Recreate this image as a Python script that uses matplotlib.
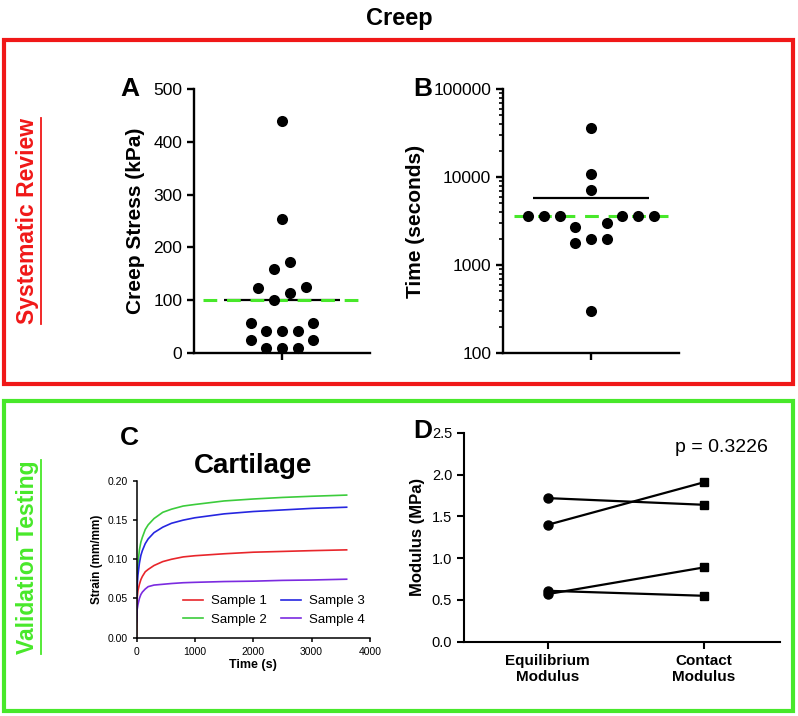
import numpy as np
import matplotlib
matplotlib.use("Agg")
import matplotlib.pyplot as plt
from matplotlib.patches import Rectangle
from matplotlib.lines import Line2D
from matplotlib.ticker import FormatStrFormatter, LogLocator, NullFormatter

plt.rcParams['font.family'] = ['Liberation Sans', 'DejaVu Sans']

# ===== DATA =====

# A - creep stress from the review (kPa)
creep_stress = [440, 254, 172, 159, 125, 124, 113, 100, 57, 57, 42, 42, 42, 25, 25, 10, 10, 10]
stress_ref = 100

# B - creep duration from the review (s)
creep_time = [36000, 10800, 7200, 3600, 3600, 3600, 3600, 3600, 3600, 3000, 2700, 2000, 2000, 1800, 300]
time_ref = 3600

# C - cartilage creep curves
t_s = [0, 10, 25, 50, 75, 100, 150, 200, 300, 450, 600, 800, 1000, 1500, 2000, 2500, 3000, 3600]
strain_s1 = [0.0, 0.050, 0.060, 0.068, 0.074, 0.078, 0.084, 0.087, 0.092, 0.097, 0.100, 0.103,
             0.1045, 0.107, 0.109, 0.110, 0.111, 0.112]
strain_s2 = [0.050, 0.080, 0.095, 0.112, 0.122, 0.128, 0.138, 0.144, 0.152, 0.160, 0.164, 0.168,
             0.170, 0.1745, 0.177, 0.179, 0.1805, 0.182]
strain_s3 = [0.048, 0.065, 0.080, 0.095, 0.105, 0.111, 0.120, 0.126, 0.134, 0.141, 0.146, 0.150,
             0.153, 0.158, 0.161, 0.163, 0.165, 0.1665]
strain_s4 = [0.020, 0.035, 0.042, 0.050, 0.055, 0.058, 0.062, 0.065, 0.067, 0.068, 0.069, 0.070,
             0.0705, 0.0715, 0.072, 0.073, 0.0735, 0.0745]
sample_names = ['Sample 1', 'Sample 2', 'Sample 3', 'Sample 4']
sample_colors = ['#e8262b', '#3ccc3c', '#2626e0', '#7b2be0']

# D - paired modulus (MPa)
equil_mod = [1.72, 1.40, 0.61, 0.57]
contact_mod = [1.64, 1.91, 0.55, 0.89]
mod_labels = ['Equilibrium\nModulus', 'Contact\nModulus']
p_text = 'p = 0.3226'

W, H = 798, 716
RED = '#f01818'
GREEN = '#48e82a'


def box(l, t, r, b):
    # pixel box -> figure fraction
    return [l / W, 1 - b / H, (r - l) / W, (b - t) / H]


def swarm(ax, vals, step_px, tol_px):
    # GraphPad-like scatter: rows of close values, spread out until no overlap
    y = ax.transData.transform(np.column_stack([np.zeros(len(vals)), vals]))[:, 1]
    order = np.argsort(y, kind='stable')
    rows = []
    for i in order:
        if rows and y[i] - y[rows[-1][0]] <= tol_px:
            rows[-1].append(i)
        else:
            rows.append([i])
    placed = []
    off = np.zeros(len(vals))
    lim = (0.95 * step_px) ** 2

    def free(c, yy):
        return all((c * step_px - px) ** 2 + (yy - py) ** 2 >= lim for px, py in placed)

    for row in rows:
        n = len(row)
        base = np.arange(n) - (n - 1) / 2
        chosen = None
        for j in range(4):
            cand = base + np.sign(base) * 0.5 * j
            if all(free(c, y[i]) for c, i in zip(cand, row)):
                chosen = cand
                break
        if chosen is None:
            chosen = []
            steps = [0.0]
            for k in range(1, 20):
                steps += [-0.5 * k, 0.5 * k]
            for i in row:
                for c in steps:
                    if free(c, y[i]) and c not in chosen:
                        chosen.append(c)
                        placed.append((c * step_px, y[i]))
                        break
            placed = placed[:len(placed) - n]
        for c, i in zip(chosen, row):
            off[i] = c
            placed.append((c * step_px, y[i]))
    return off


def style_axes(ax, lw, size):
    for s in ['top', 'right']:
        ax.spines[s].set_visible(False)
    for s in ['left', 'bottom']:
        ax.spines[s].set_linewidth(lw)
    ax.tick_params(direction='out', width=lw, length=5, labelsize=size)


fig = plt.figure(figsize=(W / 100, H / 100), dpi=100)

# ===== FRAMES =====
fig.patches.append(Rectangle((4 / W, 1 - 384 / H), 789 / W, 344 / H, transform=fig.transFigure,
                             fill=False, edgecolor=RED, lw=3))
fig.patches.append(Rectangle((4 / W, 1 - 711 / H), 789 / W, 310 / H, transform=fig.transFigure,
                             fill=False, edgecolor=GREEN, lw=3))

fig.text(399 / W, 1 - 18 / H, 'Creep', ha='center', va='center', fontsize=17, fontweight='bold')

side1 = fig.text(28 / W, 1 - 221 / H, 'Systematic Review', rotation=90, ha='center', va='center',
                 fontsize=16.5, fontweight='bold', color=RED)
side2 = fig.text(28 / W, 1 - 557 / H, 'Validation Testing', rotation=90, ha='center', va='center',
                 fontsize=16.5, fontweight='bold', color=GREEN)

# ===== A =====
axA = fig.add_axes(box(194, 89, 370, 353))
axA.set_xlim(-1, 1)
axA.set_ylim(0, 500)
step = 15.7
offA = swarm(axA, creep_stress, step, 7.3)
axA.scatter(offA * step / 176 * 2, creep_stress, s=64, c='black', zorder=5, clip_on=False, lw=0)
axA.hlines(np.mean(creep_stress), -0.66, 0.66, colors='black', lw=1.6, zorder=3)
axA.hlines(stress_ref, -0.9, 0.9, colors=GREEN, lw=2.2, linestyles=(0, (4.5, 3.2)), zorder=4)
style_axes(axA, 1.7, 12.5)
axA.set_xticks([0])
axA.set_xticklabels([''])
axA.set_yticks(np.arange(0, 501, 100))
axA.set_ylabel('Creep Stress (kPa)', fontsize=15, fontweight='bold', labelpad=6)
fig.text(130 / W, 1 - 89 / H, 'A', ha='center', va='center', fontsize=19, fontweight='bold')

# ===== B =====
axB = fig.add_axes(box(503, 89, 679, 353))
axB.set_yscale('log')
axB.set_xlim(-1, 1)
axB.set_ylim(100, 100000)
offB = swarm(axB, creep_time, step, 7.3)
axB.scatter(offB * step / 176 * 2, creep_time, s=64, c='black', zorder=5, clip_on=False, lw=0)
axB.hlines(np.mean(creep_time), -0.66, 0.66, colors='black', lw=1.6, zorder=3)
axB.hlines(time_ref, -0.88, 0.88, colors=GREEN, lw=2.2, linestyles=(0, (4.5, 3.2)), zorder=4)
style_axes(axB, 1.7, 12.5)
axB.tick_params(which='minor', direction='out', width=1.2, length=3)
axB.set_xticks([0])
axB.set_xticklabels([''])
axB.set_yticks([100, 1000, 10000, 100000])
axB.set_yticklabels(['100', '1000', '10000', '100000'])
axB.yaxis.set_minor_locator(LogLocator(base=10, subs=np.arange(2, 10)))
axB.yaxis.set_minor_formatter(NullFormatter())
axB.set_ylabel('Time (seconds)', fontsize=15, fontweight='bold', labelpad=6)
fig.text(423 / W, 1 - 89 / H, 'B', ha='center', va='center', fontsize=19, fontweight='bold')

# ===== C =====
axC = fig.add_axes(box(136.5, 481, 370, 637.5))
for ys, name, col in zip([strain_s1, strain_s2, strain_s3, strain_s4], sample_names, sample_colors):
    axC.plot(t_s, ys, color=col, lw=1.2, label=name)
axC.set_xlim(0, 4000)
axC.set_ylim(0, 0.2)
style_axes(axC, 1.1, 7.5)
axC.tick_params(length=3)
axC.set_xticks(np.arange(0, 4001, 1000))
axC.set_yticks(np.arange(0, 0.201, 0.05))
axC.yaxis.set_major_formatter(FormatStrFormatter('%.2f'))
axC.set_xlabel('Time (s)', fontsize=9, fontweight='bold', labelpad=2)
axC.set_ylabel('Strain (mm/mm)', fontsize=8.5, fontweight='bold', labelpad=3)
axC.legend(ncol=2, frameon=False, fontsize=9.5, loc='lower left', bbox_to_anchor=(0.15, 0.0),
           handlelength=1.5, columnspacing=1.1, labelspacing=0.45, handletextpad=0.6)
axC.set_title('Cartilage', fontsize=20, fontweight='bold', pad=6)
fig.text(129 / W, 1 - 438 / H, 'C', ha='center', va='center', fontsize=19, fontweight='bold')

# ===== D =====
axD = fig.add_axes(box(464, 433, 780, 641.7))
for e, c in zip(equil_mod, contact_mod):
    axD.plot([0, 1], [e, c], color='black', lw=1.6, zorder=2)
axD.plot(np.zeros(len(equil_mod)), equil_mod, 'o', color='black', ms=6.5, zorder=3, clip_on=False)
axD.plot(np.ones(len(contact_mod)), contact_mod, 's', color='black', ms=6, zorder=3, clip_on=False)
axD.set_xlim(-0.535, 1.486)
axD.set_ylim(0, 2.5)
style_axes(axD, 1.5, 10.5)
axD.set_xticks([0, 1])
axD.set_xticklabels(mod_labels, fontsize=11, fontweight='bold')
axD.set_yticks(np.arange(0, 2.51, 0.5))
axD.yaxis.set_major_formatter(FormatStrFormatter('%.1f'))
axD.set_ylabel('Modulus (MPa)', fontsize=12, fontweight='bold', labelpad=5)
fig.text(768 / W, 1 - 451.5 / H, p_text, ha='right', va='baseline', fontsize=14)
fig.text(423 / W, 1 - 431 / H, 'D', ha='center', va='center', fontsize=19, fontweight='bold')

# ===== UNDERLINES for the side labels =====
fig.canvas.draw()
r = fig.canvas.get_renderer()
for txt, col in [(side1, RED), (side2, GREEN)]:
    bb = txt.get_window_extent(r)
    x = (bb.x1 + 1) / W
    fig.lines.append(Line2D([x, x], [bb.y0 / H, bb.y1 / H], transform=fig.transFigure,
                            color=col, lw=1.3))

fig.savefig('out.png', dpi=100)
